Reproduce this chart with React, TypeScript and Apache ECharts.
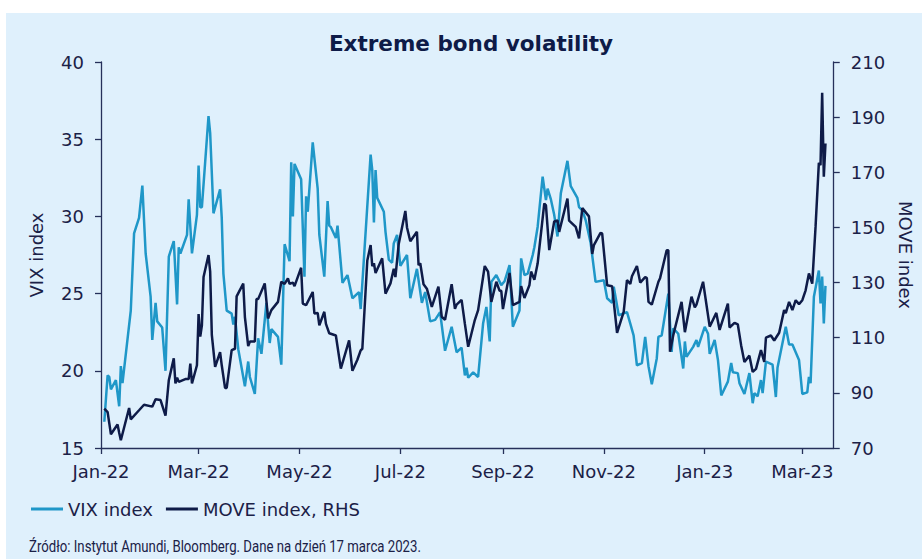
import React, { useEffect, useRef } from "react";
import * as echarts from "echarts";

const vixDates = [
  "2022-01-03","2022-01-05","2022-01-06","2022-01-07","2022-01-10","2022-01-12","2022-01-13","2022-01-14","2022-01-19","2022-01-21",
  "2022-01-24","2022-01-26","2022-01-28","2022-01-31","2022-02-01","2022-02-03","2022-02-04","2022-02-07","2022-02-09","2022-02-11",
  "2022-02-14","2022-02-16","2022-02-17","2022-02-18","2022-02-22","2022-02-23","2022-02-25","2022-02-28","2022-03-01","2022-03-02",
  "2022-03-03","2022-03-07","2022-03-08","2022-03-10","2022-03-14","2022-03-15","2022-03-16","2022-03-18","2022-03-21","2022-03-22",
  "2022-03-23","2022-03-25","2022-03-29","2022-03-31","2022-04-01","2022-04-04","2022-04-06","2022-04-08","2022-04-11","2022-04-13",
  "2022-04-14","2022-04-18","2022-04-20","2022-04-22","2022-04-25","2022-04-26","2022-04-27","2022-04-28","2022-05-02","2022-05-04",
  "2022-05-05","2022-05-06","2022-05-09","2022-05-12","2022-05-13","2022-05-16","2022-05-18","2022-05-19","2022-05-20","2022-05-23",
  "2022-05-24","2022-05-27","2022-05-30","2022-06-02","2022-06-06","2022-06-07","2022-06-13","2022-06-14","2022-06-15","2022-06-16",
  "2022-06-17","2022-06-21","2022-06-22","2022-06-24","2022-06-26","2022-06-27","2022-06-29","2022-07-01","2022-07-05","2022-07-07",
  "2022-07-11","2022-07-14","2022-07-16","2022-07-19","2022-07-22","2022-07-25","2022-07-28","2022-08-01","2022-08-04","2022-08-07",
  "2022-08-09","2022-08-10","2022-08-11","2022-08-14","2022-08-17","2022-08-20","2022-08-22","2022-08-24","2022-08-25","2022-08-28",
  "2022-08-31","2022-09-02","2022-09-05","2022-09-07","2022-09-11","2022-09-12","2022-09-14","2022-09-16","2022-09-19","2022-09-20",
  "2022-09-22","2022-09-25","2022-09-27","2022-09-28","2022-09-30","2022-10-02","2022-10-04","2022-10-06","2022-10-10","2022-10-12",
  "2022-10-16","2022-10-17","2022-10-19","2022-10-21","2022-10-24","2022-10-27","2022-11-01","2022-11-03","2022-11-06","2022-11-07",
  "2022-11-10","2022-11-15","2022-11-17","2022-11-19","2022-11-21","2022-11-24","2022-11-26","2022-11-28","2022-11-30","2022-12-03",
  "2022-12-04","2022-12-06","2022-12-10","2022-12-12","2022-12-13","2022-12-16","2022-12-19","2022-12-20","2022-12-21","2022-12-25",
  "2022-12-27","2022-12-28","2023-01-01","2023-01-03","2023-01-04","2023-01-07","2023-01-09","2023-01-11","2023-01-15","2023-01-17",
  "2023-01-18","2023-01-21","2023-01-22","2023-01-25","2023-01-28","2023-01-30","2023-01-31","2023-02-02","2023-02-04","2023-02-05",
  "2023-02-07","2023-02-11","2023-02-13","2023-02-14","2023-02-19","2023-02-21","2023-02-23","2023-02-27","2023-03-01","2023-03-04",
  "2023-03-05","2023-03-06","2023-03-08","2023-03-11","2023-03-12","2023-03-13","2023-03-14","2023-03-15"
];
const vixValues = [
  16.7,19.7,19.6,18.8,19.4,17.7,20.3,19.2,23.9,28.9,
  29.9,32.0,27.6,24.8,22.0,24.4,23.2,22.8,20.0,27.4,
  28.4,24.3,28.0,27.6,28.8,31.1,27.6,30.1,33.3,30.6,
  30.6,36.5,35.4,30.2,31.75,29.9,26.3,23.9,23.7,23.0,
  23.5,21.4,19.0,20.6,19.6,18.5,22.1,21.1,24.4,21.8,
  22.7,22.2,20.4,28.2,27.1,33.5,30.0,33.4,32.4,26.1,
  31.3,30.3,34.8,31.8,28.8,26.1,31.0,29.4,29.3,28.6,
  29.4,25.7,26.2,24.7,25.1,24.0,34.0,33.0,29.6,33.0,
  31.2,30.3,29.0,27.2,27.0,28.25,28.8,26.8,27.5,24.7,
  26.6,24.4,25.1,23.2,23.3,23.8,21.3,22.85,21.2,21.5,
  19.7,20.2,19.55,19.9,19.6,23.06,24.14,21.9,25.76,26.2,
  25.55,25.8,26.85,22.85,23.9,27.28,26.2,26.3,27.5,28.0,
  29.33,32.57,31.06,31.8,31.1,30.1,28.7,31.5,33.6,31.96,
  31.2,30.6,30.4,29.76,28.3,25.76,25.87,24.7,24.4,25.44,
  23.6,23.8,23.06,22.3,20.36,20.5,22.2,20.3,19.13,20.8,
  22.2,22.3,25.0,21.23,22.75,22.4,20.15,21.9,20.9,21.55,
  22.0,21.55,22.85,22.4,21.1,22.0,20.7,18.4,19.3,20.5,
  19.9,19.85,19.2,18.5,19.85,17.9,18.55,18.35,19.4,18.55,
  20.6,20.4,18.3,20.2,22.85,21.7,21.7,20.7,18.5,18.6,
  19.6,19.2,24.8,26.5,24.36,26.1,23.06,25.5
];

const moveDates = [
  "2022-01-03","2022-01-05","2022-01-06","2022-01-07","2022-01-11","2022-01-12","2022-01-13","2022-01-18","2022-01-19","2022-01-24",
  "2022-01-27","2022-02-01","2022-02-03","2022-02-06","2022-02-09","2022-02-11","2022-02-14","2022-02-15","2022-02-16","2022-02-17",
  "2022-02-21","2022-02-23","2022-02-24","2022-02-25","2022-02-28","2022-03-01","2022-03-02","2022-03-03","2022-03-04","2022-03-07",
  "2022-03-08","2022-03-09","2022-03-11","2022-03-14","2022-03-15","2022-03-17","2022-03-18","2022-03-21","2022-03-23","2022-03-24",
  "2022-03-28","2022-03-29","2022-03-31","2022-04-01","2022-04-04","2022-04-05","2022-04-06","2022-04-10","2022-04-12","2022-04-14",
  "2022-04-18","2022-04-20","2022-04-22","2022-04-24","2022-04-25","2022-04-27","2022-04-28","2022-05-02","2022-05-03","2022-05-05",
  "2022-05-09","2022-05-10","2022-05-12","2022-05-13","2022-05-16","2022-05-17","2022-05-19","2022-05-23","2022-05-26","2022-05-31",
  "2022-06-02","2022-06-05","2022-06-07","2022-06-08","2022-06-11","2022-06-13","2022-06-14","2022-06-15","2022-06-16","2022-06-20",
  "2022-06-22","2022-06-25","2022-06-27","2022-06-28","2022-06-30","2022-07-04","2022-07-05","2022-07-07","2022-07-11","2022-07-12",
  "2022-07-13","2022-07-15","2022-07-17","2022-07-20","2022-07-24","2022-07-26","2022-07-28","2022-08-01","2022-08-03","2022-08-04",
  "2022-08-07","2022-08-09","2022-08-11","2022-08-15","2022-08-17","2022-08-21","2022-08-23","2022-08-25","2022-08-28","2022-08-30",
  "2022-08-31","2022-09-01","2022-09-05","2022-09-07","2022-09-11","2022-09-12","2022-09-14","2022-09-17","2022-09-18","2022-09-20",
  "2022-09-22","2022-09-26","2022-09-27","2022-09-29","2022-10-02","2022-10-04","2022-10-05","2022-10-10","2022-10-11","2022-10-15",
  "2022-10-17","2022-10-19","2022-10-23","2022-10-25","2022-10-26","2022-10-30","2022-10-31","2022-11-03","2022-11-06","2022-11-09",
  "2022-11-13","2022-11-15","2022-11-17","2022-11-18","2022-11-21","2022-11-23","2022-11-26","2022-11-27","2022-11-28","2022-11-30",
  "2022-12-04","2022-12-05","2022-12-09","2022-12-10","2022-12-11","2022-12-13","2022-12-18","2022-12-20","2022-12-24","2022-12-26",
  "2022-12-27","2022-12-31","2023-01-04","2023-01-08","2023-01-10","2023-01-15","2023-01-16","2023-01-19","2023-01-21","2023-01-23",
  "2023-01-25","2023-01-28","2023-01-30","2023-02-01","2023-02-04","2023-02-06","2023-02-07","2023-02-10","2023-02-12","2023-02-15",
  "2023-02-18","2023-02-19","2023-02-21","2023-02-23","2023-02-25","2023-02-27","2023-03-01","2023-03-03","2023-03-05","2023-03-07",
  "2023-03-09","2023-03-11","2023-03-12","2023-03-13","2023-03-14","2023-03-15"
];
const moveValues = [
  84.3,83,79,75,78.5,75.5,72.8,84.5,80.4,83.7,
  85.7,85,87.7,87.4,81.7,94.6,102.5,93.4,95.5,94,
  95,95,100.6,93.4,100,118.6,110.4,114.5,132,140,
  134,111,99.4,104.8,100,91.8,91.8,105.5,106,125,
  129.6,117.5,107,108.6,108.6,124,124,129.7,117,120,
  123,130.3,129.5,131.5,129.5,130,128.7,135.4,122.4,121.8,
  126.6,118.8,119,114.5,119.4,115,111.6,110.8,98.8,109,
  98,102,105.4,106,138,143.6,136,137,133.5,138.8,
  126,129.7,135,132,144,156,150,145,148.4,136.3,
  137,129.4,127.8,121.2,128.5,117.6,116.5,129.4,120.5,122,
  123.7,115,106.7,116.4,120,136,134,123,130.3,127,
  127,120.4,133.5,121.8,123,128.7,124.4,129,134,131,
  137,158.7,158,141.8,152.2,152.5,148.4,160.5,152.5,150.2,
  146,157,154,140.4,143.6,148,147.8,129,128.7,111.8,
  119.4,130.9,129.5,132.3,136,130,132,131.6,123,122,
  130.3,131.6,141.7,141.7,104.9,111,123,112,124.9,121,
  122,130.3,114,119,112.8,122.4,113.7,115.4,114.8,107.3,
  101.2,103.5,97.6,98.7,105.5,101.2,110,110.8,109,111.8,
  120,118.9,123,120,123.6,122.2,123.6,127.2,133.3,129.6,
  150.2,173.4,172.6,198.8,168.4,180.5
];

const xMinDate = "2022-01-01";
const xMaxDate = "2023-03-20";
const monthTickDates = [
  "2022-01-01","2022-03-01","2022-05-01","2022-07-01","2022-09-01","2022-11-01","2023-01-01","2023-03-01"
];
const monthNames = ["Jan","Feb","Mar","Apr","May","Jun","Jul","Aug","Sep","Oct","Nov","Dec"];
const vixTicks = [15, 20, 25, 30, 35, 40];
const moveTicks = [70, 90, 110, 130, 150, 170, 190, 210];

const TITLE = "Extreme bond volatility";
const SOURCE = "Źródło: Instytut Amundi, Bloomberg. Dane na dzień 17 marca 2023.";

const NAVY = "#0e1b48";
const LIGHT = "#1f97c8";
const AXIS = "#26305a";
const TEXT = "#1b2147";
const FONT = "DejaVu Sans";

function toTime(s: string): number {
  const p = s.split("-").map(Number);
  return Date.UTC(p[0], p[1] - 1, p[2]);
}

export default function App() {
  const ref = useRef<HTMLDivElement>(null);
  useEffect(() => {
    if (!ref.current) return;
    const chart = echarts.init(ref.current, null, { renderer: "svg" });
    const tickTimes = monthTickDates.map(toTime);
    const vixData = vixDates.map((d, i) => [toTime(d), vixValues[i]]);
    const moveData = moveDates.map((d, i) => [toTime(d), moveValues[i]]);
    const labelStyle = { fontFamily: FONT, fontSize: 18, color: TEXT };
    const option: any = {
      animation: false,
      graphic: [
        {
          type: "rect",
          left: 6,
          top: 13,
          shape: { width: 916, height: 546 },
          style: { fill: "#dff0fc" },
          z: -10,
          silent: true,
        },
        {
          type: "text",
          x: 471,
          y: 43,
          style: {
            text: TITLE,
            fontFamily: "DejaVu Sans",
            fontWeight: "bold",
            fontSize: 21.5,
            fill: NAVY,
            textAlign: "center",
            textVerticalAlign: "middle",
          },
        },
        {
          type: "text",
          x: 29,
          y: 547,
          scaleX: 0.825,
          style: {
            text: SOURCE,
            fontFamily: "Roboto",
            fontSize: 16,
            fill: TEXT,
            textAlign: "left",
            textVerticalAlign: "middle",
          },
        },
      ],
      grid: { left: 101, right: 80, top: 62, bottom: 111, containLabel: false },
      legend: {
        left: 26,
        top: 495,
        icon: "rect",
        itemWidth: 32,
        itemHeight: 3,
        itemGap: 13,
        textStyle: labelStyle,
        data: ["VIX index", "MOVE index, RHS"],
      },
      xAxis: {
        type: "value",
        min: toTime(xMinDate),
        max: toTime(xMaxDate),
        splitLine: { show: false },
        axisLine: { show: true, lineStyle: { color: AXIS, width: 1.3 } },
        axisTick: { show: true, customValues: tickTimes, length: 6, lineStyle: { color: AXIS, width: 1.3 } },
        axisLabel: {
          customValues: tickTimes,
          margin: 14,
          ...labelStyle,
          formatter: (v: number) => {
            const d = new Date(v);
            return monthNames[d.getUTCMonth()] + "-" + String(d.getUTCFullYear()).slice(2);
          },
        },
      },
      yAxis: [
        {
          type: "value",
          position: "left",
          min: 15,
          max: 40,
          name: "VIX index",
          nameLocation: "middle",
          nameGap: 56,
          nameTextStyle: labelStyle,
          splitLine: { show: false },
          axisLine: { show: true, lineStyle: { color: AXIS, width: 1.3 } },
          axisTick: { show: true, customValues: vixTicks, length: 6, lineStyle: { color: AXIS, width: 1.3 } },
          axisLabel: { customValues: vixTicks, margin: 17, ...labelStyle },
        },
        {
          type: "value",
          position: "right",
          min: 70,
          max: 210,
          name: "MOVE index",
          nameLocation: "middle",
          nameRotate: -90,
          nameGap: 54,
          nameTextStyle: labelStyle,
          splitLine: { show: false },
          axisLine: { show: true, lineStyle: { color: AXIS, width: 1.3 } },
          axisTick: { show: true, customValues: moveTicks, length: 6, lineStyle: { color: AXIS, width: 1.3 } },
          axisLabel: { customValues: moveTicks, margin: 17, ...labelStyle },
        },
      ],
      series: [
        {
          name: "VIX index",
          type: "line",
          yAxisIndex: 0,
          data: vixData,
          showSymbol: false,
          symbol: "none",
          color: LIGHT,
          lineStyle: { color: LIGHT, width: 2.5 },
        },
        {
          name: "MOVE index, RHS",
          type: "line",
          yAxisIndex: 1,
          data: moveData,
          showSymbol: false,
          symbol: "none",
          color: NAVY,
          lineStyle: { color: NAVY, width: 2.5 },
        },
      ],
    };
    chart.setOption(option);
    return () => chart.dispose();
  }, []);
  return (
    <div
      ref={ref}
      style={{ position: "absolute", left: 0, top: 0, width: 922, height: 559, background: "#ffffff" }}
    />
  );
}
